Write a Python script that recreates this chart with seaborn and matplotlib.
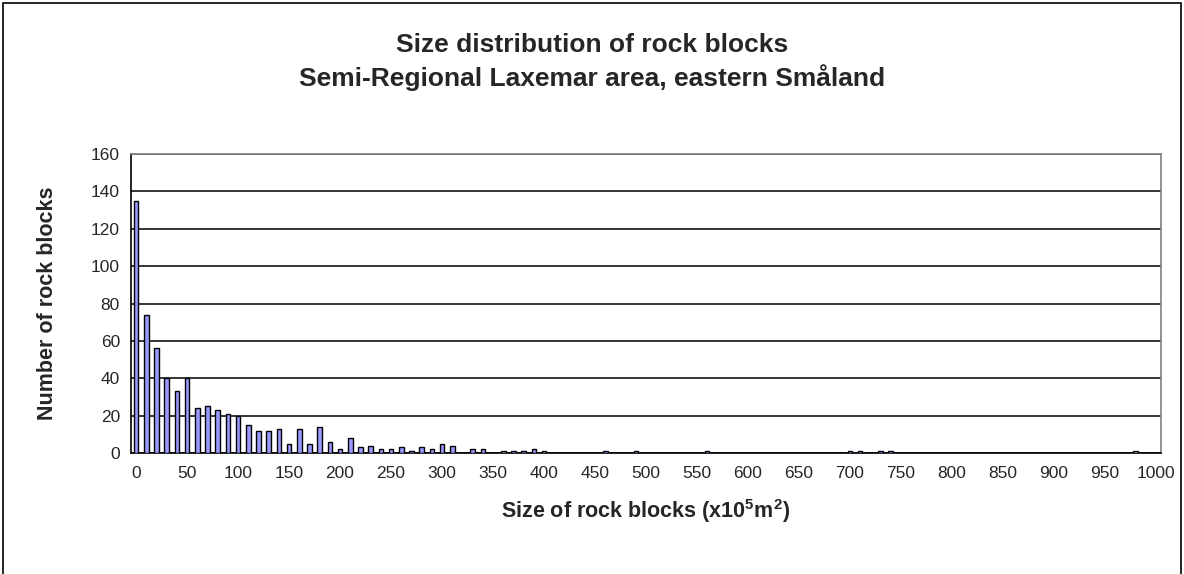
import numpy as np
import pandas as pd
import matplotlib
matplotlib.use("Agg")
import matplotlib.pyplot as plt
from matplotlib.patches import Rectangle
import seaborn as sns

# ---- data ----
bin_sizes = list(range(0, 1001, 10))          # categories (x10^5 m^2)
counts = [0] * len(bin_sizes)
nonzero = {
    0: 135, 10: 74, 20: 56, 30: 40, 40: 33, 50: 40, 60: 24, 70: 25, 80: 23,
    90: 21, 100: 20, 110: 15, 120: 12, 130: 12, 140: 13, 150: 5, 160: 13,
    170: 5, 180: 14, 190: 6, 200: 2, 210: 8, 220: 3, 230: 4, 240: 2, 250: 2,
    260: 3, 270: 1, 280: 3, 290: 2, 300: 5, 310: 4, 330: 2, 340: 2, 360: 1,
    370: 1, 380: 1, 390: 2, 400: 1, 460: 1, 490: 1, 560: 1, 700: 1, 710: 1,
    730: 1, 740: 1, 980: 1,
}
for k, v in nonzero.items():
    counts[bin_sizes.index(k)] = v
tick_labels = [str(b) for b in bin_sizes[::5]]
y_ticks = list(range(0, 161, 20))

title = "Size distribution of rock blocks\nSemi-Regional Laxemar area, eastern Småland"
xlabel = r"Size of rock blocks (x10$^{5}$m$^{2}$)"
ylabel = "Number of rock blocks"

df = pd.DataFrame({"size": [str(b) for b in bin_sizes], "count": counts})

# ---- style ----
sns.set_theme(style="white")
plt.rcParams["font.family"] = ["Liberation Sans", "DejaVu Sans"]
plt.rcParams["mathtext.fontset"] = "custom"
plt.rcParams["mathtext.bf"] = "Liberation Sans:bold"
plt.rcParams["mathtext.rm"] = "Liberation Sans"
plt.rcParams["mathtext.default"] = "bf"

fig = plt.figure(figsize=(11.84, 5.74), dpi=100)
fig.patch.set_facecolor("white")
ax = fig.add_axes([131 / 1184, 1 - 453 / 574, 1030 / 1184, 299 / 574])

sns.barplot(data=df, x="size", y="count", order=df["size"].tolist(),
            color="#9999FF", saturation=1, edgecolor="black", linewidth=1.0,
            width=0.45, ax=ax, zorder=3)

ax.set_xlim(-0.5, len(bin_sizes) - 0.5)
ax.set_ylim(0, 160)
ax.set_yticks(y_ticks)
ax.set_yticklabels([str(t) for t in y_ticks], fontsize=12.5)
ax.yaxis.grid(True, color="black", linewidth=1.1, zorder=0)
ax.set_axisbelow(True)
ax.tick_params(axis="y", direction="out", length=5, width=1, color="black", pad=3)

label_pos = list(range(0, len(bin_sizes), 5))
ax.set_xticks(label_pos)
ax.set_xticklabels(tick_labels, fontsize=12.5)
ax.tick_params(axis="x", which="major", length=0, pad=9)
ax.set_xticks(np.arange(-0.5, len(bin_sizes), 1.0), minor=True)
ax.tick_params(axis="x", which="minor", direction="out", length=6, width=1, color="black")

ax.set_xlabel(xlabel, fontsize=15.5, fontweight="bold", labelpad=12)
ax.set_ylabel(ylabel, fontsize=15.5, fontweight="bold", labelpad=24)

for side in ["left", "bottom"]:
    ax.spines[side].set_color("black")
    ax.spines[side].set_linewidth(1.2)
for side in ["top", "right"]:
    ax.spines[side].set_color("#808080")
    ax.spines[side].set_linewidth(1.2)

fig.text(592 / 1184, 1 - 62 / 574, title, ha="center", va="center",
         fontsize=19, fontweight="bold", linespacing=1.35)

# chart-area border
fig.patches.append(Rectangle((3 / 1184, -0.05), 1178 / 1184, 1.05 - 3 / 574,
                             transform=fig.transFigure, fill=False,
                             edgecolor="black", linewidth=1.2, clip_on=False))

fig.savefig("out.png", dpi=100, facecolor="white")
